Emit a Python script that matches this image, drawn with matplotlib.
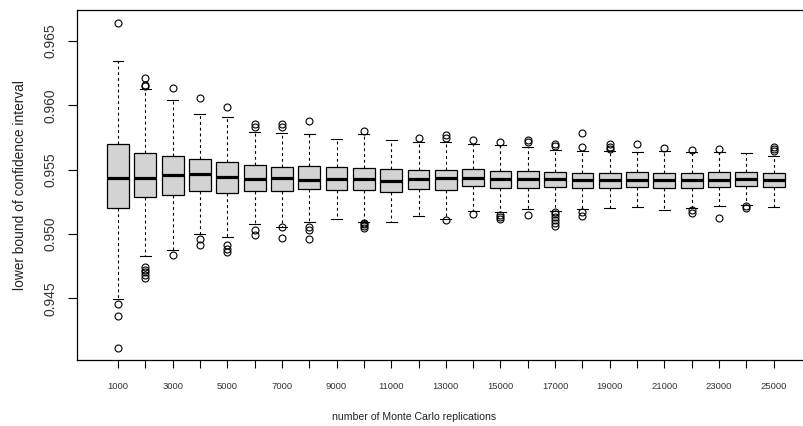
import matplotlib
matplotlib.use("Agg")
import matplotlib.pyplot as plt

plt.rcParams['font.family'] = ['Liberation Sans', 'DejaVu Sans']

reps = [1000, 2000, 3000, 4000, 5000, 6000, 7000, 8000, 9000, 10000,
        11000, 12000, 13000, 14000, 15000, 16000, 17000, 18000, 19000,
        20000, 21000, 22000, 23000, 24000, 25000]

q3 = [0.95697, 0.95630, 0.95609, 0.95585, 0.95558, 0.95534, 0.95519, 0.95526,
      0.95519, 0.95516, 0.95505, 0.95500, 0.95495, 0.95503, 0.95492, 0.95490,
      0.95484, 0.95477, 0.95477, 0.95482, 0.95477, 0.95477, 0.95480, 0.95484,
      0.95472]
med = [0.95436, 0.95436, 0.95459, 0.95464, 0.95446, 0.95430, 0.95438, 0.95422,
       0.95428, 0.95425, 0.95415, 0.95428, 0.95433, 0.95435, 0.95425, 0.95430,
       0.95428, 0.95420, 0.95422, 0.95422, 0.95418, 0.95420, 0.95420, 0.95430,
       0.95420]
q1 = [0.95202, 0.95285, 0.95301, 0.95337, 0.95317, 0.95337, 0.95334, 0.95348,
      0.95340, 0.95345, 0.95329, 0.95352, 0.95345, 0.95371, 0.95358, 0.95360,
      0.95363, 0.95358, 0.95360, 0.95366, 0.95358, 0.95358, 0.95363, 0.95376,
      0.95366]
whishi = [0.96342, 0.96125, 0.96044, 0.95931, 0.95907, 0.95791, 0.95788, 0.95777,
          0.95739, 0.95777, 0.95733, 0.95718, 0.95718, 0.95697, 0.95690, 0.95676,
          0.95655, 0.95648, 0.95648, 0.95640, 0.95648, 0.95641, 0.95641, 0.95632,
          0.95607]
whislo = [0.94493, 0.94832, 0.94876, 0.94998, 0.94979, 0.95080, 0.95057, 0.95091,
          0.95117, 0.95096, 0.95094, 0.95143, 0.95119, 0.95179, 0.95171, 0.95197,
          0.95181, 0.95197, 0.95200, 0.95208, 0.95184, 0.95202, 0.95218, 0.95228,
          0.95212]
fliers = [
    [0.96638, 0.94459, 0.94361, 0.94117],
    [0.96215, 0.96158, 0.96150, 0.94744, 0.94724, 0.94705, 0.94682, 0.94658],
    [0.96133, 0.94835],
    [0.96060, 0.94961, 0.94917],
    [0.95987, 0.94912, 0.94884, 0.94863],
    [0.95853, 0.95832, 0.95031, 0.94990],
    [0.95855, 0.95832, 0.95052, 0.94967],
    [0.95879, 0.95057, 0.95034, 0.94959],
    [],
    [0.95797, 0.95087, 0.95078, 0.95062, 0.95045],
    [],
    [0.95744],
    [0.95770, 0.95744, 0.95107],
    [0.95733, 0.95156],
    [0.95718, 0.95148, 0.95130, 0.95117],
    [0.95733, 0.95713, 0.95148],
    [0.95697, 0.95682, 0.95175, 0.95153, 0.95130, 0.95107, 0.95083, 0.95062],
    [0.95783, 0.95674, 0.95174, 0.95138],
    [0.95697, 0.95679, 0.95663],
    [0.95697],
    [0.95666],
    [0.95655, 0.95184, 0.95166],
    [0.95657, 0.95127],
    [0.95214, 0.95200],
    [0.95676, 0.95661, 0.95645],
]
yticks = [0.945, 0.950, 0.955, 0.960, 0.965]

stats = []
for i in range(len(reps)):
    stats.append(dict(med=med[i], q1=q1[i], q3=q3[i], whislo=whislo[i],
                      whishi=whishi[i], fliers=fliers[i]))

fig = plt.figure(figsize=(8.04, 4.26), dpi=100)
ax = fig.add_axes([77 / 804, 1 - 360 / 426, 737.7 / 804, 350 / 426])

pos = list(range(1, len(reps) + 1))
ax.bxp(stats, positions=pos, widths=0.8, patch_artist=True,
       boxprops=dict(facecolor='#d3d3d3', edgecolor='black', linewidth=0.9),
       whiskerprops=dict(color='black', linewidth=0.8, linestyle=(0, (2.6, 2.6))),
       capprops=dict(color='black', linewidth=0.8),
       medianprops=dict(color='black', linewidth=2.3, solid_capstyle='butt'),
       flierprops=dict(marker='o', markersize=5, markerfacecolor='none',
                       markeredgecolor='black', markeredgewidth=0.8))

ax.set_xlim(-0.5, 26.5)
ax.set_ylim(0.94021, 0.96741)
ax.set_xticks(pos)
ax.set_xticklabels([str(r) if i % 2 == 0 else '' for i, r in enumerate(reps)])
ax.set_yticks(yticks)
ax.set_yticklabels(['%.3f' % v for v in yticks], rotation=90, va='center')

ax.tick_params(axis='x', length=6, width=0.8, pad=10, labelsize=6.8,
               labelcolor='#333333')
ax.tick_params(axis='y', length=6.3, width=0.8, pad=8, labelsize=10,
               labelcolor='#333333')
for s in ax.spines.values():
    s.set_linewidth(0.9)

fig.text(413.7 / 804, 1 - 416.5 / 426, 'number of Monte Carlo replications',
         ha='center', va='center', fontsize=7.6, color='#222222')
fig.text(20 / 804, 1 - 185 / 426, 'lower bound of confidence interval',
         ha='center', va='center', rotation=90, fontsize=9.9, color='#222222')

fig.savefig('out.png', dpi=100)
